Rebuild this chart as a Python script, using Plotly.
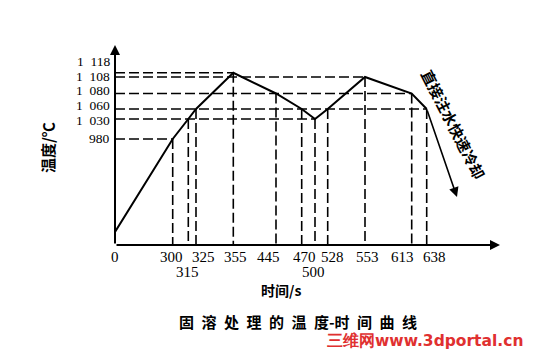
import numpy as np
import plotly.graph_objects as go

# ---------------- data ----------------
time_s = [0, 300, 315, 325, 355, 445, 470, 500, 528, 553, 613, 638]
temp_c = [20, 980, 1030, 1060, 1118, 1080, 1060, 1030, 1060, 1108, 1080, 1060]

x_tick_values = [0, 300, 315, 325, 355, 445, 470, 500, 528, 553, 613, 638]
x_tick_labels = ["0", "300", "315", "325", "355", "445", "470", "500", "528", "553", "613", "638"]

y_tick_values = [980, 1030, 1060, 1080, 1108, 1118]
y_tick_labels = ["980", "1\u2002030", "1\u2002060", "1\u2002080", "1\u2002108", "1\u2002118"]

cooling_label = "直接注水快速冷却"
x_title = "时间/s"
y_title = "温度/℃"
caption = "固溶处理的温度-时间曲线"
watermark = "三维网www.3dportal.cn"

# ------------- schematic (non-linear) axis scales -------------
X_SCALE_T = [0, 300, 315, 325, 355, 445, 470, 500, 528, 553, 613, 638, 700]
X_SCALE_D = [0, 57.7, 73.3, 81, 118.3, 161, 186.7, 200, 212.7, 250, 296.7, 311.7, 385]
Y_SCALE_T = [20, 980, 1030, 1060, 1080, 1108, 1118]
Y_SCALE_D = [13, 106, 126, 136, 151.5, 168, 172.2]


def xs(t):
    return float(np.interp(t, X_SCALE_T, X_SCALE_D))


def ys(v):
    return float(np.interp(v, Y_SCALE_T, Y_SCALE_D))


# ------------- styles -------------
x_label_row = [0, 0, 1, 0, 0, 0, 0, 1, 0, 0, 0, 0]
x_label_nudge = [0, -1, -1, 7, 2, -8, 3, -2, 5, 2, -9, 8]
y_label_nudge = [0.5, -1.5, 3.5, 3, 1, 11.3]
NUM_FONT = dict(family="Liberation Serif", size=15, color="black")
YNUM_FONT = dict(family="Liberation Serif", size=13.5, color="black")
CJK = "Noto Sans CJK SC"

fig = go.Figure()

# dashed guide lines
hx, hy = [], []
for v in y_tick_values:
    tmax = max(t for t, T in zip(time_s, temp_c) if T == v)
    hx += [0, xs(tmax), None]
    hy += [ys(v), ys(v), None]
vx, vy = [], []
for t, T in zip(time_s[1:], temp_c[1:]):
    vx += [xs(t), xs(t), None]
    vy += [ys(T), 0, None]

fig.add_trace(go.Scatter(x=hx, y=hy, mode="lines",
                         line=dict(color="black", width=1.6, dash="10px,4px"),
                         hoverinfo="skip", cliponaxis=False))
fig.add_trace(go.Scatter(x=vx, y=vy, mode="lines",
                         line=dict(color="black", width=1.6, dash="10px,4px"),
                         hoverinfo="skip", cliponaxis=False))

# main curve
fig.add_trace(go.Scatter(x=[xs(t) for t in time_s], y=[ys(T) for T in temp_c],
                         mode="lines", line=dict(color="black", width=2),
                         cliponaxis=False))

ann = []
# axes with arrows
ann.append(dict(x=0, y=200, ax=0, ay=0, xref="x", yref="y", axref="x", ayref="y",
                showarrow=True, arrowhead=2, arrowsize=1, arrowwidth=2, arrowcolor="black", text=""))
ann.append(dict(x=385, y=0, ax=0, ay=0, xref="x", yref="y", axref="x", ayref="y",
                showarrow=True, arrowhead=2, arrowsize=1, arrowwidth=2, arrowcolor="black", text=""))

# cooling arrow from last point
end_x, end_y = 342, 48
ann.append(dict(x=end_x, y=end_y, ax=xs(time_s[-1]), ay=ys(temp_c[-1]),
                xref="x", yref="y", axref="x", ayref="y",
                showarrow=True, arrowhead=2, arrowsize=1.2, arrowwidth=1.6,
                arrowcolor="black", text=""))
ann.append(dict(x=339, y=121, xref="x", yref="y", text=cooling_label, showarrow=False,
                textangle=63, xanchor="center", yanchor="middle",
                font=dict(family=CJK, size=15, color="black", weight="bold")))

# x tick labels
for t, lab, row, dx in zip(x_tick_values, x_tick_labels, x_label_row, x_label_nudge):
    ann.append(dict(x=xs(t), y=0, xref="x", yref="y", text=lab, showarrow=False,
                    xanchor="center", yanchor="top", xshift=dx, yshift=-2 - 15 * row,
                    font=NUM_FONT))
# y tick labels
for v, lab, dy in zip(y_tick_values, y_tick_labels, y_label_nudge):
    ann.append(dict(x=0, y=ys(v), xref="x", yref="y", text=lab, showarrow=False,
                    xanchor="right", yanchor="middle", xshift=-4, yshift=dy,
                    borderpad=0, font=YNUM_FONT))

# titles (given in picture pixels, converted to paper coords below)
spaced_caption = "-".join("\u2002".join(part) for part in caption.split("-"))
titles = [
    dict(x=281, y=290, text=x_title,
         font=dict(family=CJK, size=14, color="black", weight="bold")),
    dict(x=47, y=148, text=y_title, textangle=-90,
         font=dict(family=CJK, size=15, color="black", weight="bold")),
    dict(x=298, y=321, text=spaced_caption,
         font=dict(family=CJK, size=15, color="black", weight="bold")),
    dict(x=425, y=341, text=watermark,
         font=dict(family="DejaVu Sans", size=15.5, color="#e03030", weight="bold")),
]

W, H = 544, 354
ML, MR, MT, MB = 115, 44, 45, 109
pw, ph = W - ML - MR, H - MT - MB
for a in titles:
    px, py = a["x"], a["y"]
    a.update(xref="paper", yref="paper", x=(px - ML) / pw, y=(H - MB - py) / ph,
             xanchor="center", yanchor="middle", showarrow=False)
    ann.append(a)

fig.update_layout(
    width=W, height=H,
    margin=dict(l=ML, r=MR, t=MT, b=MB, pad=0),
    plot_bgcolor="white", paper_bgcolor="white",
    showlegend=False,
    xaxis=dict(range=[0, 385], visible=False, fixedrange=True),
    yaxis=dict(range=[0, 200], visible=False, fixedrange=True),
    annotations=ann,
)

fig.write_html("out.html")
